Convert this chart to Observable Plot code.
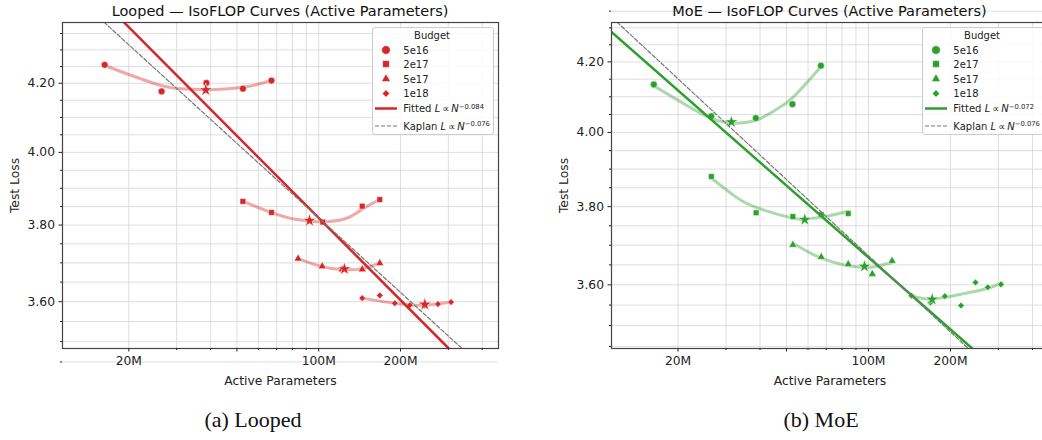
<!DOCTYPE html>
<html>
<head>
<meta charset="utf-8">
<script src="https://cdn.jsdelivr.net/npm/d3@7"></script>
<script src="https://cdn.jsdelivr.net/npm/@observablehq/plot@0.6"></script>
<style>
  html, body { margin: 0; padding: 0; background: #fff; overflow: hidden; }
  #root { position: relative; width: 1042px; height: 440px; overflow: hidden; font-family: "DejaVu Sans", sans-serif; }
  .panel { position: absolute; top: 0; }
  .title { position: absolute; top: 3px; font-size: 14.5px; line-height: 16px; color: #111; white-space: nowrap; transform: translateX(-50%); z-index: 5; }
  .caption { position: absolute; top: 407px; font-family: "Liberation Serif", "Times New Roman", serif; font-size: 22px; color: #111; white-space: nowrap; transform: translateX(-50%); }
  .legend { position: absolute; }
</style>
</head>
<body>
<div id="root"></div>
<script>
// ---------------- data (N in millions of active parameters, L = test loss) ----------------
const budgets = ["5e16", "2e17", "5e17", "1e18"];
const budgetSymbols = ["circle", "square", "triangle", "diamond2"];

const xMajorTicks = [20, 50, 100, 200];
const xTickLabels = ["20M", "50M", "100M", "200M"];
const xMinorTicks = [30, 40, 60, 70, 80, 90, 300, 400];
const yMajorTicks = [3.6, 3.8, 4.0, 4.2];
const yTickLabels = ["3.60", "3.80", "4.00", "4.20"];
const yMinorTicks = [3.45, 3.5, 3.55, 3.65, 3.7, 3.75, 3.85, 3.9, 3.95, 4.05, 4.1, 4.15, 4.25, 4.3, 4.35];

// Looped
const looped5e16N = [16.3, 26.4, 38.6, 52.6, 67.0];
const looped5e16L = [4.255, 4.176, 4.201, 4.184, 4.208];
const looped2e17N = [52.6, 67.0, 103.5, 144.6, 167.8];
const looped2e17L = [3.864, 3.834, 3.808, 3.851, 3.869];
const looped5e17N = [84.0, 103.0, 122.0, 144.6, 167.8];
const looped5e17L = [3.711, 3.691, 3.683, 3.683, 3.699];
const looped1e18N = [144.6, 167.8, 190.6, 216.4, 245.8, 274.8, 307.0];
const looped1e18L = [3.609, 3.616, 3.596, 3.591, 3.590, 3.594, 3.599];
const loopedOptN = [38.4, 92.5, 124.4, 245.8];
const loopedOptL = [4.180, 3.812, 3.684, 3.593];
const loopedCurve5e16N = [16.3, 26.4, 32.9, 38.6, 52.5, 67.0];
const loopedCurve5e16L = [4.253, 4.193, 4.183, 4.181, 4.188, 4.208];
const loopedCurve2e17N = [52.7, 66.8, 80.0, 92.6, 103.0, 125.0, 144.6, 167.8];
const loopedCurve2e17L = [3.864, 3.834, 3.817, 3.811, 3.809, 3.817, 3.843, 3.869];
const loopedCurve5e17N = [84.0, 103.0, 124.4, 144.6, 167.8];
const loopedCurve5e17L = [3.711, 3.690, 3.682, 3.685, 3.699];
const loopedCurve1e18N = [144.6, 190.6, 245.8, 307.0];
const loopedCurve1e18L = [3.609, 3.596, 3.591, 3.599];
const loopedFitN = [19.17, 301.0];
const loopedFitL = [4.385, 3.483];
const loopedKaplanN = [16.2, 337.0];
const loopedKaplanL = [4.385, 3.483];

// MoE
const moe5e16N = [16.3, 26.5, 38.6, 52.6, 66.9];
const moe5e16L = [4.135, 4.045, 4.040, 4.079, 4.189];
const moe2e17N = [26.5, 38.7, 52.8, 67.1, 84.3];
const moe2e17L = [3.880, 3.784, 3.774, 3.779, 3.782];
const moe5e17N = [52.8, 67.1, 84.3, 103.3, 122.1];
const moe5e17L = [3.701, 3.670, 3.652, 3.627, 3.660];
const moe1e18N = [143.9, 168.8, 190.7, 218.6, 247.1, 274.2, 306.4];
const moe1e18L = [3.573, 3.556, 3.572, 3.549, 3.606, 3.594, 3.601];
const moeOptN = [31.4, 58.4, 96.7, 171.3];
const moeOptL = [4.029, 3.766, 3.646, 3.564];
const moeCurve5e16N = [16.3, 21.7, 26.5, 31.4, 38.6, 45.0, 52.6, 66.9];
const moeCurve5e16L = [4.131, 4.074, 4.039, 4.026, 4.034, 4.060, 4.097, 4.186];
const moeCurve2e17N = [26.5, 32.1, 38.7, 52.8, 58.4, 67.1, 84.3];
const moeCurve2e17L = [3.876, 3.829, 3.798, 3.770, 3.768, 3.772, 3.788];
const moeCurve5e17N = [52.8, 67.1, 84.3, 96.7, 105.0, 122.1];
const moeCurve5e17L = [3.705, 3.667, 3.648, 3.644, 3.645, 3.656];
const moeCurve1e18N = [143.3, 164.3, 190.7, 230.3, 272.7, 309.6];
const moeCurve1e18L = [3.573, 3.565, 3.569, 3.580, 3.591, 3.605];
const moeFitN = [11.42, 241.5];
const moeFitL = [4.287, 3.444];
const moeKaplanN = [11.95, 233.4];
const moeKaplanL = [4.317, 3.444];

// ---------------- helpers ----------------
const rows = (ns, ls, b) => ns.map((n, i) => ({n, l: ls[i], b}));
const budgetRows = (Ns, Ls) => budgets.flatMap((b, i) => rows(Ns[i], Ls[i], b));
const symbolR = {"5e16": 4.3, "2e17": 3.8, "5e17": 3.3, "1e18": 3.3};

const panels = [
  {
    title: "Looped — IsoFLOP Curves (Active Parameters)",
    caption: "(a) Looped",
    captionX: 253,
    left: 0, width: 520, marginLeft: 62, marginRight: 22,
    xDomain: [11.4, 459], yDomain: [3.483, 4.384],
    color: "#d62728",
    fitExp: "0.084",
    points: budgetRows([looped5e16N, looped2e17N, looped5e17N, looped1e18N], [looped5e16L, looped2e17L, looped5e17L, looped1e18L]),
    curves: budgetRows([loopedCurve5e16N, loopedCurve2e17N, loopedCurve5e17N, loopedCurve1e18N], [loopedCurve5e16L, loopedCurve2e17L, loopedCurve5e17L, loopedCurve1e18L]),
    opt: rows(loopedOptN, loopedOptL, "opt"),
    fit: rows(loopedFitN, loopedFitL, "fit"),
    kaplan: rows(loopedKaplanN, loopedKaplanL, "kaplan"),
    legendLeft: 372
  },
  {
    title: "MoE — IsoFLOP Curves (Active Parameters)",
    caption: "(b) MoE",
    captionX: 821,
    left: 520, width: 540, marginLeft: 91, marginRight: 12,
    xDomain: [11.4, 458], yDomain: [3.445, 4.316],
    color: "#2ca02c",
    fitExp: "0.072",
    points: budgetRows([moe5e16N, moe2e17N, moe5e17N, moe1e18N], [moe5e16L, moe2e17L, moe5e17L, moe1e18L]),
    curves: budgetRows([moeCurve5e16N, moeCurve2e17N, moeCurve5e17N, moeCurve1e18N], [moeCurve5e16L, moeCurve2e17L, moeCurve5e17L, moeCurve1e18L]),
    opt: rows(moeOptN, moeOptL, "opt"),
    fit: rows(moeFitN, moeFitL, "fit"),
    kaplan: rows(moeKaplanN, moeKaplanL, "kaplan"),
    legendLeft: 921.7
  }
];

const root = document.getElementById("root");
const H = 390, MT = 22, MB = 42;
const gridStyle = {stroke: "#d6d6d6", strokeOpacity: 1, strokeWidth: 0.8};

for (const p of panels) {
  const xGrid = [...xMajorTicks, ...xMinorTicks];
  const yGrid = [...yMajorTicks, ...yMinorTicks];
  const chart = Plot.plot({
    width: p.width, height: H,
    marginLeft: p.marginLeft, marginRight: p.marginRight, marginTop: MT, marginBottom: MB,
    style: {fontFamily: "DejaVu Sans", fontSize: "12px", color: "#222", background: "transparent", overflow: "visible"},
    x: {type: "log", domain: p.xDomain},
    y: {type: "log", domain: p.yDomain},
    symbol: {domain: budgets, range: budgetSymbols},
    marks: [
      Plot.gridX(xGrid, gridStyle),
      Plot.gridY(yGrid, gridStyle),
      Plot.line(p.curves, {x: "n", y: "l", z: "b", stroke: p.color, strokeOpacity: 0.4, strokeWidth: 3, curve: "natural", clip: true}),
      Plot.dot(p.points, {x: "n", y: "l", symbol: "b", r: d => symbolR[d.b], fill: p.color, stroke: "white", strokeWidth: 0.5}),
      Plot.dot(p.opt, {x: "n", y: "l", symbol: "star", fill: p.color, stroke: "white", strokeWidth: 0.5, r: 4.1}),
      Plot.line(p.fit, {x: "n", y: "l", stroke: p.color, strokeWidth: 2.5, clip: true}),
      Plot.line(p.kaplan, {x: "n", y: "l", stroke: "#777", strokeWidth: 1.2, strokeDasharray: "4,2", clip: true}),
      Plot.frame({stroke: "#444", strokeWidth: 1.2}),
      Plot.axisX(xMajorTicks, {tickSize: 3.5, tickFormat: d => xTickLabels[xMajorTicks.indexOf(d)], tickPadding: 4,
        label: "Active Parameters", labelAnchor: "center", labelArrow: "none", labelOffset: 36, fontSize: 12.3}),
      Plot.axisX(xMinorTicks, {tickSize: 2, tickFormat: () => "", label: null}),
      Plot.axisY(yMajorTicks, {tickSize: 3.5, tickFormat: d => yTickLabels[yMajorTicks.indexOf(d)], tickPadding: 4,
        label: "Test Loss", labelAnchor: "center", labelArrow: "none", labelOffset: 52, fontSize: 12.3}),
      Plot.axisY(yMinorTicks, {tickSize: 2, tickFormat: () => "", label: null})
    ]
  });
  chart.classList.add("panel");
  chart.style.left = p.left + "px";
  root.appendChild(chart);

  const frameCenter = p.left + p.marginLeft + (p.width - p.marginLeft - p.marginRight) / 2;
  const t = document.createElement("div");
  t.className = "title";
  t.style.left = frameCenter + "px";
  t.textContent = p.title;
  root.appendChild(t);

  const c = document.createElement("div");
  c.className = "caption";
  c.style.left = p.captionX + "px";
  c.textContent = p.caption;
  root.appendChild(c);

  // legend box
  const lw = 122, lh = 108;
  const lg = d3.create("svg").attr("class", "legend").attr("width", lw).attr("height", lh)
    .style("left", p.legendLeft + "px").style("top", "27px")
    .style("font-family", "DejaVu Sans").style("font-size", "10px");
  lg.append("rect").attr("x", 0.5).attr("y", 0.5).attr("width", lw - 1).attr("height", lh - 1)
    .attr("rx", 2.5).attr("fill", "white").attr("fill-opacity", 0.85).attr("stroke", "#ccc");
  lg.append("text").attr("x", 60).attr("y", 8.5).attr("dy", "0.35em").attr("text-anchor", "middle").attr("fill", "#222").text("Budget");
  const rowY = [23, 37, 52, 66.5, 81.5, 99];
  const symMap = {circle: d3.symbolCircle, square: d3.symbolSquare, triangle: d3.symbolTriangle, diamond2: d3.symbolDiamond2};
  budgets.forEach((b, i) => {
    const r = symbolR[b];
    lg.append("path").attr("transform", `translate(14,${rowY[i]})`)
      .attr("d", d3.symbol(symMap[budgetSymbols[i]], Math.PI * r * r)())
      .attr("fill", p.color).attr("stroke", "white").attr("stroke-width", 0.5);
    lg.append("text").attr("x", 31.3).attr("y", rowY[i]).attr("dy", "0.35em").attr("fill", "#222").text(b);
  });
  lg.append("line").attr("x1", 3).attr("x2", 25).attr("y1", rowY[4]).attr("y2", rowY[4]).attr("stroke", p.color).attr("stroke-width", 2.5);
  lg.append("line").attr("x1", 3).attr("x2", 25).attr("y1", rowY[5]).attr("y2", rowY[5]).attr("stroke", "#777").attr("stroke-width", 1.2).attr("stroke-dasharray", "4,2");
  const addEq = (y, name, exp) => {
    const tx = lg.append("text").attr("x", 31.3).attr("y", y).attr("dy", "0.35em").attr("fill", "#222");
    tx.append("tspan").text(name + " ");
    tx.append("tspan").attr("font-style", "italic").text("L");
    tx.append("tspan").text("\u2009∝\u2009");
    tx.append("tspan").attr("font-style", "italic").text("N");
    tx.append("tspan").attr("dy", "-0.5em").attr("font-size", "6.8px").text("−" + exp);
  };
  addEq(rowY[4], "Fitted", p.fitExp);
  addEq(rowY[5], "Kaplan", "0.076");
  root.appendChild(lg.node());
}
</script>
</body>
</html>
